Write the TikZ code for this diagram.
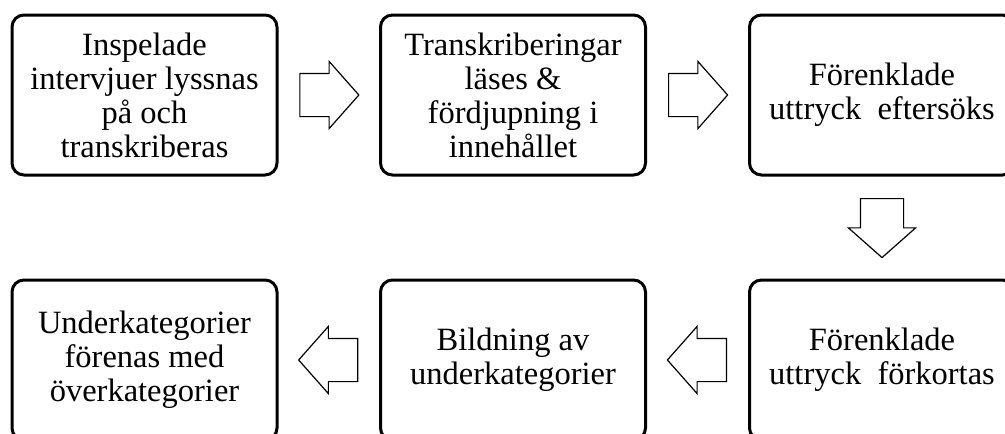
\documentclass[tikz,border=0pt]{standalone}
\usepackage{fontspec}
\setmainfont{Liberation Serif}
\usepackage{tikz}
\usetikzlibrary{shapes.arrows}
\usetikzlibrary{calc}

\tikzset{
    stepbox/.style = {draw, line width = 3pt, rounded corners = 12pt,
        minimum width = 265pt, minimum height = 160pt, align = center,
        font = \fontsize{32.5}{34}\selectfont},
    blockarrow/.style = {single arrow, draw, line width = 1.2pt, inner xsep = 0pt,
        inner ysep = 21pt, single arrow head extend = 12pt,
        single arrow tip angle = 97, minimum height = 59pt, anchor = tail},
    downarrow/.style = {blockarrow, inner xsep = 21pt, inner ysep = 0pt,
        shape border rotate = 270}
}

\begin{document}
\begin{tikzpicture}[x = 1pt, y = 1pt]

    \useasboundingbox (0,0) rectangle (1005,-434);
    \clip (0,0) rectangle (1005,-434);

    % top row
    \node[stepbox] (b1) at (144.5,-95) {Inspelade\\intervjuer lyssnas\\på och\\transkriberas};
    \node[stepbox] (b2) at (513,-95) {Transkriberingar\\läses \&\\fördjupning i\\innehållet};
    \node[stepbox] (b3) at (882,-95) {Förenklade\\uttryck~ eftersöks};

    % bottom row
    \node[stepbox] (b4) at (882,-360) {Förenklade\\uttryck~ förkortas};
    \node[stepbox] (b5) at (513,-360) {Bildning av\\underkategorier};
    \node[stepbox] (b6) at (144.5,-360) {Underkategorier\\förenas med\\överkategorier};

    % block arrows (tail placed half a length before the gap's middle)
    \node[blockarrow] (a1) at ($(b1.east)!0.5!(b2.west)+(-29.5,0)$) {};
    \node[blockarrow] (a2) at ($(b2.east)!0.5!(b3.west)+(-29.5,0)$) {};
    \node[downarrow] (a3) at ($(b3.south)!0.5!(b4.north)+(0,29.5)$) {};
    \node[blockarrow, shape border rotate = 180] (a4) at ($(b4.west)!0.5!(b5.east)+(29.5,0)$) {};
    \node[blockarrow, shape border rotate = 180] (a5) at ($(b5.west)!0.5!(b6.east)+(29.5,0)$) {};

\end{tikzpicture}
\end{document}
